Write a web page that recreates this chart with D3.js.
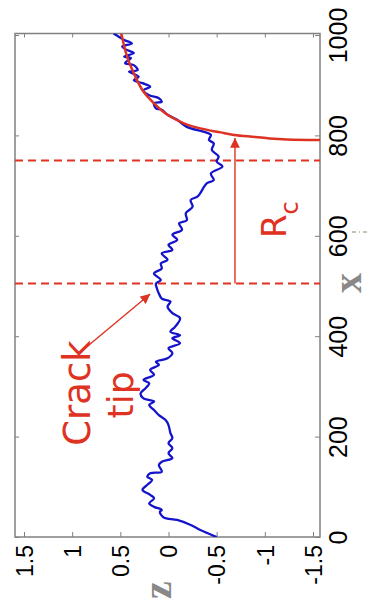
<!DOCTYPE html>
<html>
<head>
<meta charset="utf-8">
<script src="https://cdn.jsdelivr.net/npm/d3@7"></script>
<style>
  body { margin: 0; background: #fff; }
  svg { display: block; }
</style>
</head>
<body>
<div id="chart"></div>
<script>
// axis ticks
const xTicks = [0, 200, 400, 600, 800, 1000];
const zTicks = [1.5, 1, 0.5, 0, -0.5, -1, -1.5];

const profileX = [0, 14, 24, 34, 39, 50, 54, 60, 67, 77, 84, 94, 104, 114, 120, 127, 130, 143, 150, 157,
  167, 177, 187, 197, 207, 223, 233, 243, 253, 263, 270, 276, 286, 296, 306, 313, 323, 333, 343, 349,
  356, 366, 376, 386, 396, 402, 409, 419, 436, 446, 459, 469, 475, 485, 495, 505, 512, 525, 535, 545,
  552, 565, 572, 582, 592, 602, 612, 625, 631, 645, 658, 671, 678, 685, 698, 705, 711, 724, 738, 748,
  758, 771, 784, 791, 801, 807, 817, 831, 841, 851, 854, 864, 867, 874, 880, 890, 897, 904, 910, 917,
  927, 930, 940, 944, 954, 957, 964, 970, 977, 983, 990, 997, 1003];
const profileZ = [-0.50, -0.33, -0.23, -0.09, 0.05, 0.09, 0.07, 0.15, 0.20, 0.15, 0.19, 0.27, 0.22, 0.17, 0.22, 0.19, 0.07, 0.10, 0.07, -0.04,
  0.00, -0.04, 0.00, -0.04, -0.02, 0.00, 0.03, 0.10, 0.15, 0.20, 0.15, 0.26, 0.29, 0.24, 0.20, 0.26, 0.15, 0.19, 0.10, 0.13,
  0.01, -0.04, 0.00, -0.12, -0.04, -0.12, -0.02, -0.07, -0.12, -0.04, 0.01, -0.02, 0.07, 0.10, 0.12, 0.13, 0.08, 0.15, 0.07, 0.08,
  0.01, 0.07, -0.04, 0.00, -0.09, -0.04, -0.14, -0.11, -0.19, -0.18, -0.25, -0.23, -0.30, -0.33, -0.37, -0.40, -0.47, -0.44, -0.56, -0.50,
  -0.52, -0.45, -0.47, -0.42, -0.44, -0.37, -0.19, -0.09, 0.01, 0.07, 0.13, 0.15, 0.07, 0.10, 0.20, 0.26, 0.19, 0.27, 0.36, 0.31,
  0.41, 0.32, 0.36, 0.45, 0.39, 0.46, 0.36, 0.43, 0.48, 0.38, 0.46, 0.52, 0.57];

// fitted curve near the tip
const fitX = [1003, 957, 924, 890, 864, 841, 824, 814, 806, 801, 797, 794, 792, 791];
const fitZ = [0.49, 0.43, 0.36, 0.27, 0.15, 0.01, -0.16, -0.33, -0.54, -0.68, -0.90, -1.05, -1.23, -1.62];

// annotations
const dashedX = [505, 750];
const rcArrow = { z: -0.69, from: 505, to: 795 };
const tipArrow = { z0: 0.91, x0: 369, z1: 0.19, x1: 484 };

const W = 370, H = 605;
const boxL = 15, boxR = 320, boxT = 33.5, boxB = 537;
const red = '#de3222', blue = '#1414cc', grey = '#808080';

const zScale = d3.scaleLinear().domain([1.5, -1.5]).range([24, 313]);
const xScale = d3.scaleLinear().domain([0, 1000]).range([537, 35]);

const svg = d3.select('#chart').append('svg')
  .attr('width', W).attr('height', H);

const defs = svg.append('defs');
defs.append('clipPath').attr('id', 'box')
  .append('rect')
  .attr('x', boxL).attr('y', boxT)
  .attr('width', boxR - boxL).attr('height', boxB - boxT);

defs.append('marker')
  .attr('id', 'head')
  .attr('viewBox', '0 0 10 10')
  .attr('refX', 10).attr('refY', 5)
  .attr('markerWidth', 7).attr('markerHeight', 7)
  .attr('markerUnits', 'strokeWidth')
  .attr('orient', 'auto')
  .append('path')
  .attr('d', 'M0,0 L10,5 L0,10 z')
  .attr('fill', red);

// ticks, inward on all four sides
function styleTicks(g) {
  g.select('.domain').remove();
  g.selectAll('.tick line').attr('stroke', grey).attr('stroke-width', 1);
}

svg.append('g')
  .attr('transform', `translate(0,${boxB})`)
  .call(d3.axisBottom(zScale).tickValues(zTicks).tickSize(-5).tickFormat(d => String(d)))
  .call(styleTicks)
  .call(g => g.selectAll('.tick text')
    .attr('y', null).attr('dy', '0.36em')
    .attr('transform', 'translate(0,8) rotate(-90)')
    .attr('text-anchor', 'end')
    .attr('fill', '#000')
    .style('font', '23px "Liberation Sans", Arial, sans-serif'));

svg.append('g')
  .attr('transform', `translate(0,${boxT})`)
  .call(d3.axisTop(zScale).tickValues(zTicks).tickSize(-4).tickFormat(''))
  .call(styleTicks);

svg.append('g')
  .attr('transform', `translate(${boxR},0)`)
  .call(d3.axisRight(xScale).tickValues(xTicks).tickSize(-5).tickFormat(d => String(d)))
  .call(styleTicks)
  .call(g => g.selectAll('.tick text')
    .attr('x', null).attr('dy', '0.36em')
    .attr('transform', 'translate(18,0) rotate(-90)')
    .attr('text-anchor', 'middle')
    .attr('fill', '#000')
    .style('font', '25px "Liberation Sans", Arial, sans-serif'));

svg.append('g')
  .attr('transform', `translate(${boxL},0)`)
  .call(d3.axisLeft(xScale).tickValues(xTicks).tickSize(-4).tickFormat(''))
  .call(styleTicks);

// frame
svg.append('rect')
  .attr('x', boxL).attr('y', boxT)
  .attr('width', boxR - boxL).attr('height', boxB - boxT)
  .attr('fill', 'none').attr('stroke', grey).attr('stroke-width', 1.5);

const plot = svg.append('g').attr('clip-path', 'url(#box)');

// dashed reference lines
plot.selectAll('line.dash')
  .data(dashedX)
  .enter().append('line')
  .attr('class', 'dash')
  .attr('x1', boxL).attr('x2', boxR)
  .attr('y1', d => xScale(d)).attr('y2', d => xScale(d))
  .attr('stroke', red).attr('stroke-width', 2)
  .attr('stroke-dasharray', '8,5');

const line = d3.line()
  .x(d => zScale(d[1]))
  .y(d => xScale(d[0]))
  .curve(d3.curveCatmullRom);

plot.append('path')
  .datum(d3.zip(profileX, profileZ))
  .attr('d', line)
  .attr('fill', 'none').attr('stroke', blue).attr('stroke-width', 2.3);

plot.append('path')
  .datum(d3.zip(fitX, fitZ))
  .attr('d', line)
  .attr('fill', 'none').attr('stroke', red).attr('stroke-width', 2.5);

// R_c arrow
svg.append('line')
  .attr('x1', zScale(rcArrow.z)).attr('x2', zScale(rcArrow.z))
  .attr('y1', xScale(rcArrow.from)).attr('y2', xScale(rcArrow.to))
  .attr('stroke', red).attr('stroke-width', 1.4)
  .attr('marker-end', 'url(#head)');

// crack tip arrow
svg.append('line')
  .attr('x1', zScale(tipArrow.z0)).attr('y1', xScale(tipArrow.x0))
  .attr('x2', zScale(tipArrow.z1)).attr('y2', xScale(tipArrow.x1))
  .attr('stroke', red).attr('stroke-width', 1.4)
  .attr('marker-end', 'url(#head)');

const ann = 'font-family: "DejaVu Sans", Verdana, sans-serif';

svg.append('text')
  .attr('transform', 'translate(90,393) rotate(-90)')
  .attr('text-anchor', 'middle')
  .attr('fill', red)
  .attr('style', ann).style('font-size', '37px')
  .text('Crack');

svg.append('text')
  .attr('transform', 'translate(133,395) rotate(-90)')
  .attr('text-anchor', 'middle')
  .attr('fill', red)
  .attr('style', ann).style('font-size', '36px')
  .text('tip');

const rc = svg.append('text')
  .attr('transform', 'translate(286,238) rotate(-90)')
  .attr('fill', red)
  .attr('style', ann).style('font-size', '34px')
  .text('R');
rc.append('tspan').attr('dy', 12).style('font-size', '24px').text('c');

// axis titles
svg.append('text')
  .attr('transform', 'translate(352,283) rotate(-90)')
  .attr('text-anchor', 'middle').attr('dy', '0.23em')
  .attr('fill', '#888')
  .style('font', 'bold 40px "Liberation Serif", "Times New Roman", serif')
  .text('x');

svg.append('text')
  .attr('transform', 'translate(162,590) rotate(-90)')
  .attr('text-anchor', 'middle').attr('dy', '0.23em')
  .attr('fill', '#888')
  .style('font', 'bold 40px "Liberation Serif", "Times New Roman", serif')
  .text('z');

// small stray dash-dot mark beside the x title
svg.append('line')
  .attr('x1', 352).attr('x2', 370).attr('y1', 232).attr('y2', 232)
  .attr('stroke', '#7d8c6e').attr('stroke-width', 1)
  .attr('stroke-dasharray', '4,3,1,3');
</script>
</body>
</html>
